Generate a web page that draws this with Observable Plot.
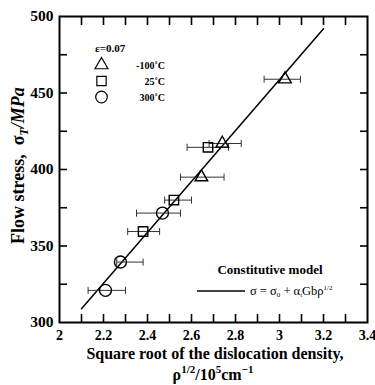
<!DOCTYPE html>
<html>
<head>
<meta charset="utf-8">
<script src="https://cdn.jsdelivr.net/npm/d3@7"></script>
<script src="https://cdn.jsdelivr.net/npm/@observablehq/plot@0.6"></script>
<style>
  html, body { margin: 0; padding: 0; background: #fff; }
  #chart { width: 375px; height: 385px; }
  svg { font-family: "Liberation Serif", "DejaVu Serif", serif; }
</style>
</head>
<body>
<div id="chart"></div>
<script>
// ---- data ----
const seriesNames = ["-100˚C", "25˚C", "300˚C"];
const seriesSymbols = ["triangle2", "square2", "circle"];

const triX   = [3.025, 2.74, 2.645];
const triY   = [459, 417, 395];
const triLo  = [2.93, 2.68, 2.55];
const triHi  = [3.095, 2.826, 2.748];

const sqX    = [2.675, 2.52, 2.38];
const sqY    = [414.5, 380, 359.5];
const sqLo   = [2.58, 2.478, 2.31];
const sqHi   = [2.768, 2.60, 2.455];

const ciX    = [2.468, 2.277, 2.209];
const ciY    = [371.5, 339.5, 321];
const ciLo   = [2.35, 2.26, 2.13];
const ciHi   = [2.55, 2.38, 2.30];

const fitX = [2.1, 3.2];
const fitY = [309, 492];

const xTickLabels = [2, 2.2, 2.4, 2.6, 2.8, 3, 3.2, 3.4];
const xTickMarks  = [2.1, 2.2, 2.3, 2.4, 2.5, 2.6, 2.7, 2.8, 2.9, 3, 3.1, 3.2, 3.3];
const yTickLabels = [300, 350, 400, 450, 500];
const yTickMarks  = [325, 350, 375, 400, 425, 450, 475];

const strain = "ε=0.07";
const modelTitle = "Constitutive model";

// ---- table ----
const points = [];
[[triX, triY, triLo, triHi], [sqX, sqY, sqLo, sqHi], [ciX, ciY, ciLo, ciHi]].forEach((s, k) => {
  s[0].forEach((x, i) => points.push({series: seriesNames[k], sym: seriesSymbols[k], x, y: s[1][i], lo: s[2][i], hi: s[3][i]}));
});
const fit = fitX.map((x, i) => ({x, y: fitY[i]}));

const vbar = {draw(ctx, size) { const h = Math.sqrt(size) / 2; ctx.moveTo(0, -h); ctx.lineTo(0, h); }};

const chart = Plot.plot({
  width: 375,
  height: 385,
  marginLeft: 59,
  marginRight: 8,
  marginTop: 16,
  marginBottom: 63,
  style: {fontFamily: "Liberation Serif", background: "#fff"},
  x: {domain: [2, 3.4]},
  y: {domain: [300, 500]},
  symbol: {domain: seriesSymbols, range: seriesSymbols},
  marks: [
    Plot.axisX({anchor: "bottom", ticks: xTickMarks, tickSize: -8, text: null, label: null, strokeWidth: 1.6}),
    Plot.axisX({anchor: "top", ticks: xTickMarks, tickSize: -8, text: null, label: null, strokeWidth: 1.6}),
    Plot.axisY({anchor: "left", ticks: yTickMarks, tickSize: -8, text: null, label: null, strokeWidth: 1.6}),
    Plot.axisY({anchor: "right", ticks: yTickMarks, tickSize: -8, text: null, label: null, strokeWidth: 1.6}),
    Plot.axisX({anchor: "bottom", ticks: xTickLabels, tickSize: 0, tickPadding: 8, label: null, fontSize: 14, tickFormat: d => String(d)}),
    Plot.axisY({anchor: "left", ticks: yTickLabels, tickSize: 0, tickPadding: 6, label: null, fontSize: 15.5}),
    Plot.frame({stroke: "#000", strokeWidth: 2}),
    Plot.line(fit, {x: "x", y: "y", stroke: "#000", strokeWidth: 1.5}),
    Plot.link(points, {x1: "lo", x2: "hi", y1: "y", y2: "y", stroke: "#333", strokeWidth: 1}),
    Plot.dot(points, {x: "lo", y: "y", symbol: () => vbar, r: 4, stroke: "#333", strokeWidth: 1}),
    Plot.dot(points, {x: "hi", y: "y", symbol: () => vbar, r: 4, stroke: "#333", strokeWidth: 1}),
    Plot.dot(points, {x: "x", y: "y", symbol: "sym", r: 6, stroke: "#000", fill: "none", strokeWidth: 1.4})
  ]
});
document.getElementById("chart").appendChild(chart);

const svg = d3.select(chart);
// make tick labels bold serif
svg.selectAll('g[aria-label$="tick label"]')
  .attr("font-weight", "bold")
  .attr("font-family", "Liberation Serif")
  .style("font-weight", "bold")
  .style("font-variant", "normal");
svg.selectAll('g[aria-label$="tick label"] text').style("font-weight", "bold");

// ---- legends and axis titles ----
const symMap = {triangle2: d3.symbolTriangle2, square2: d3.symbolSquare2, circle: d3.symbolCircle};
const symArea = {triangle2: 120, square2: 110, circle: 105};
const g = svg.append("g").attr("font-family", "Liberation Serif").attr("font-weight", "bold")
  .attr("fill", "#000").attr("text-anchor", "start");

g.append("text").attr("x", 95).attr("y", 52).attr("font-size", 11).text(strain);
seriesNames.forEach((name, i) => {
  const y = 65 + i * 16;
  g.append("path")
    .attr("d", d3.symbol(symMap[seriesSymbols[i]], symArea[seriesSymbols[i]])())
    .attr("transform", `translate(101.5,${y})`)
    .attr("fill", "none").attr("stroke", "#000").attr("stroke-width", 1.2);
  g.append("text").attr("x", 165).attr("y", y + 3.5).attr("text-anchor", "end").attr("font-size", 10).text(name);
});

g.append("text").attr("x", 270).attr("y", 274).attr("text-anchor", "middle").attr("font-size", 13).text(modelTitle);
g.append("line").attr("x1", 197).attr("x2", 245).attr("y1", 291).attr("y2", 291).attr("stroke", "#000").attr("stroke-width", 1.4);
const eq = g.append("text").attr("x", 250).attr("y", 295).attr("font-size", 12.5).attr("font-weight", "normal");
eq.append("tspan").text("σ = σ");
eq.append("tspan").attr("font-size", 7).attr("dy", 2).text("0");
eq.append("tspan").attr("dy", -2).text(" + α");
eq.append("tspan").attr("font-size", 7).attr("dy", 2).text("t");
eq.append("tspan").attr("dy", -2).text("Gbρ");
eq.append("tspan").attr("font-size", 7).attr("dy", -5).text("1/2");

// y title
const yt = g.append("text").attr("transform", "translate(24,244) rotate(-90)").attr("font-size", 18);
yt.append("tspan").text("Flow stress,  σ");
yt.append("tspan").attr("font-size", 12).attr("dy", 4).attr("font-style", "italic").text("T");
yt.append("tspan").attr("dy", -4).attr("font-style", "italic").text("/MPa");

// x title
g.append("text").attr("x", 215).attr("y", 359).attr("text-anchor", "middle").attr("font-size", 16).text("Square root of the dislocation density,");
const xt = g.append("text").attr("x", 213).attr("y", 380).attr("text-anchor", "middle").attr("font-size", 16);
xt.append("tspan").text("ρ");
xt.append("tspan").attr("font-size", 11).attr("dy", -7).text("1/2");
xt.append("tspan").attr("dy", 7).text("/10");
xt.append("tspan").attr("font-size", 11).attr("dy", -7).text("5");
xt.append("tspan").attr("dy", 7).text("cm");
xt.append("tspan").attr("font-size", 11).attr("dy", -7).text("−1");
</script>
</body>
</html>
